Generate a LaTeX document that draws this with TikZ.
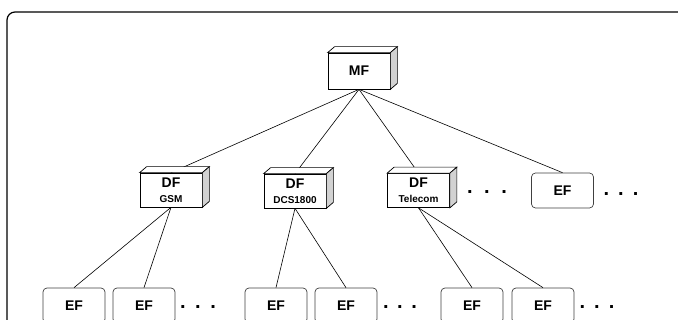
\documentclass[tikz,border=0pt]{standalone}
\usepackage{fontspec}
\setmainfont{Liberation Sans}

\newcommand\dflabel[1]{DF\\{\fontsize{10}{10}\selectfont #1}}
% top and side face of a box node
\newcommand\boxdepth[1]{%
  \draw[line width=0.7pt,fill=white] (#1.north west) -- ([shift={(7,-6)}]#1.north west)
    -- ([shift={(7,-6)}]#1.north east) -- (#1.north east) -- cycle;
  \draw[line width=0.7pt,fill=gray!35] (#1.north east) -- ([shift={(7,-6)}]#1.north east)
    -- ([shift={(7,-6)}]#1.south east) -- (#1.south east) -- cycle;}

\begin{document}
\begin{tikzpicture}[x=1pt,y=-1pt,
  box/.style={draw,line width=0.7pt,fill=white,minimum width=62pt,minimum height=34pt,
    inner sep=0pt,align=center,font=\bfseries\fontsize{14}{15}\selectfont},
  ef/.style={box,draw=black!75,rounded corners=4pt,minimum height=35pt},
  dots/.style={font=\bfseries\fontsize{20}{20}\selectfont,inner sep=0pt},
  link/.style={line width=0.6pt}]
\useasboundingbox (0,0) rectangle (678,320);
\clip (0,0) rectangle (678,320);
\draw[line width=1.2pt,rounded corners=8pt] (7,12) rectangle (700,340);

\node[box,minimum height=36pt] (mf) at (359,71) {MF};
\node[box] (gsm) at (171,190) {\dflabel{GSM}};
\node[box] (dcs) at (295,191) {\dflabel{DCS1800}};
\node[box] (tel) at (418.5,190.5) {\dflabel{Telecom}};
\node[ef] (ef) at (562.5,190.5) {EF};
\foreach \x [count=\i] in {74,144,276,346,472,543}
  \node[ef] (e\i) at (\x,305.5) {EF};

\node[dots] (d1) at (487,192) {.\hspace{11.5pt}.\hspace{11.5pt}.};
\node[dots] (d2) at (621,194) {.\hspace{9pt}.\hspace{9pt}.};
\node[dots] (d3) at (198,307) {.\hspace{9.5pt}.\hspace{9.5pt}.};
\node[dots] (d4) at (400,307) {.\hspace{8.5pt}.\hspace{8.5pt}.};
\node[dots] (d5) at (597,307) {.\hspace{9pt}.\hspace{9pt}.};

\foreach \b in {gsm,dcs,tel,ef}
  \draw[link] (mf.south) -- (\b.north);
\foreach \a/\b in {gsm/e1,gsm/e2,dcs/e3,dcs/e4,tel/e5,tel/e6}
  \draw[link] (\a.south) -- (\b.north);

\foreach \n in {mf,gsm,dcs,tel}
  {\boxdepth{\n}}
\end{tikzpicture}
\end{document}
